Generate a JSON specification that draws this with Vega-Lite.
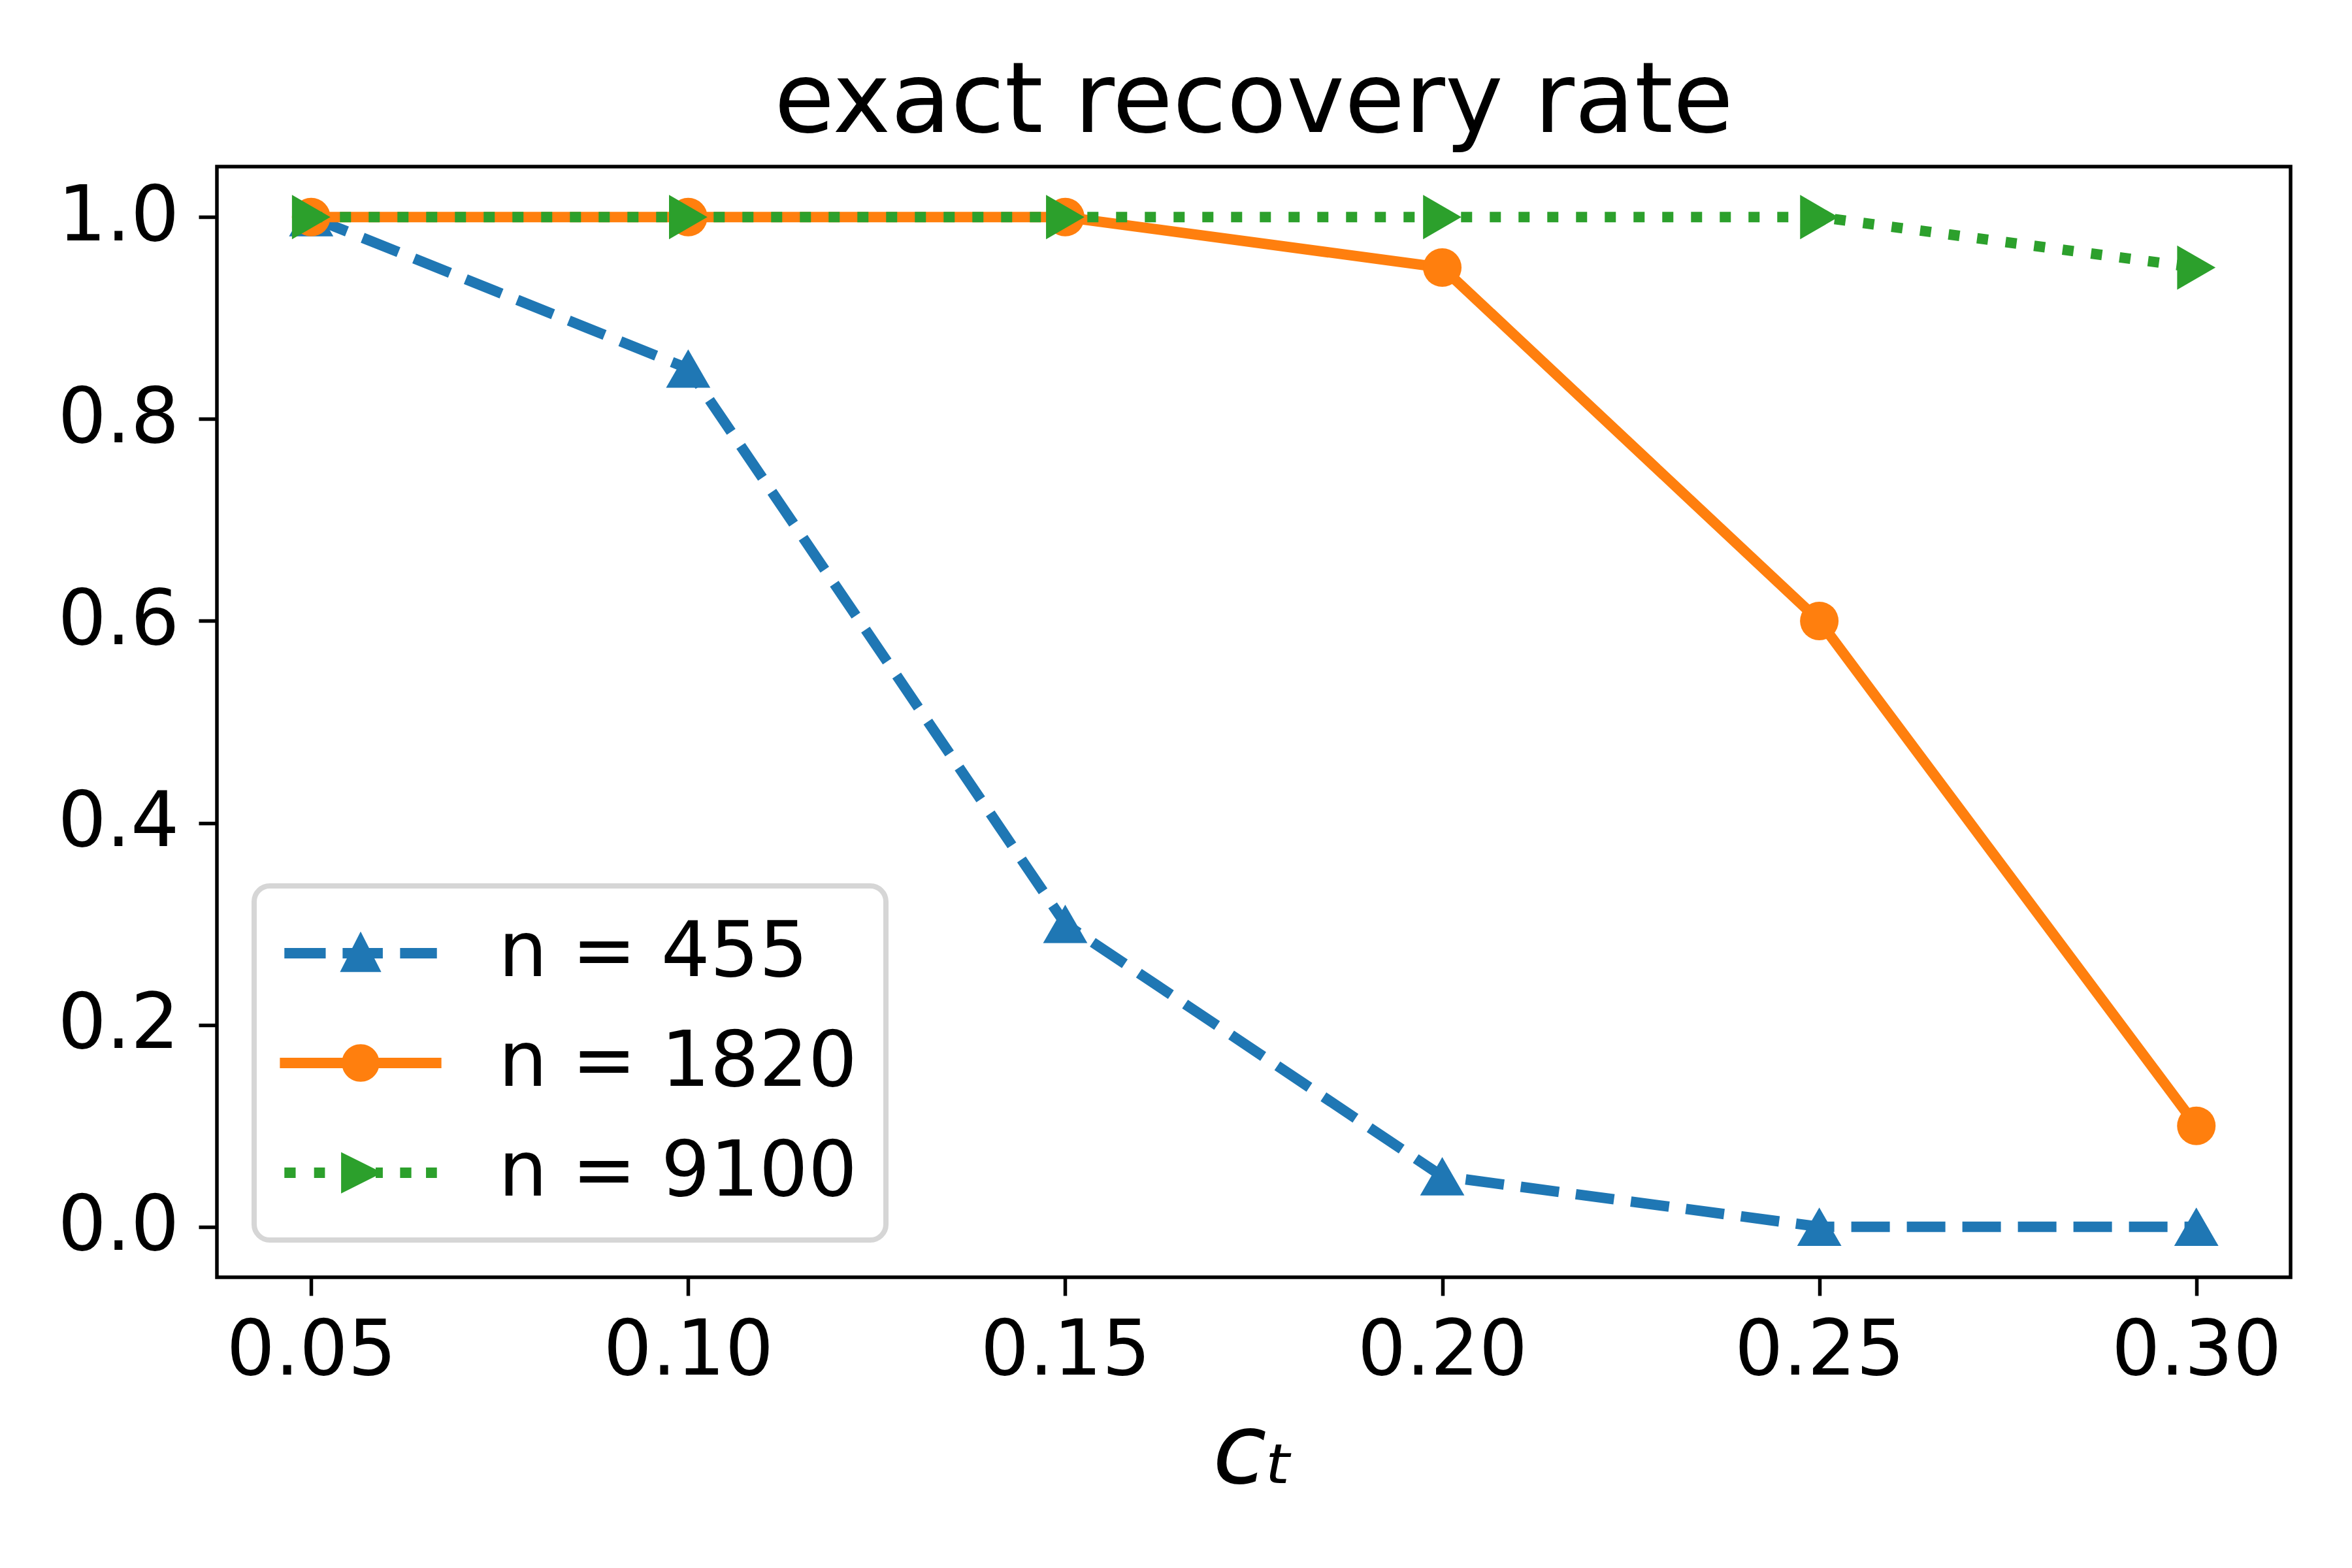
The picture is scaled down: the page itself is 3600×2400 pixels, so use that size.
{
  "$schema": "https://vega.github.io/schema/vega-lite/v6.json",
  "width": 3174,
  "height": 1700,
  "padding": {"left": 87, "top": 82, "right": 10, "bottom": 10},
  "background": "white",
  "title": {"text": "exact recovery rate", "font": "DejaVu Sans", "fontSize": 150, "fontWeight": "normal", "color": "black", "offset": 22},
  "data": {
    "values": [
      {"ct": 0.05, "rate": 1.0, "series": "n = 455"},
      {"ct": 0.10, "rate": 0.85, "series": "n = 455"},
      {"ct": 0.15, "rate": 0.30, "series": "n = 455"},
      {"ct": 0.20, "rate": 0.05, "series": "n = 455"},
      {"ct": 0.25, "rate": 0.0, "series": "n = 455"},
      {"ct": 0.30, "rate": 0.0, "series": "n = 455"},
      {"ct": 0.05, "rate": 1.0, "series": "n = 1820"},
      {"ct": 0.10, "rate": 1.0, "series": "n = 1820"},
      {"ct": 0.15, "rate": 1.0, "series": "n = 1820"},
      {"ct": 0.20, "rate": 0.95, "series": "n = 1820"},
      {"ct": 0.25, "rate": 0.60, "series": "n = 1820"},
      {"ct": 0.30, "rate": 0.10, "series": "n = 1820"},
      {"ct": 0.05, "rate": 1.0, "series": "n = 9100"},
      {"ct": 0.10, "rate": 1.0, "series": "n = 9100"},
      {"ct": 0.15, "rate": 1.0, "series": "n = 9100"},
      {"ct": 0.20, "rate": 1.0, "series": "n = 9100"},
      {"ct": 0.25, "rate": 1.0, "series": "n = 9100"},
      {"ct": 0.30, "rate": 0.95, "series": "n = 9100"}
    ]
  },
  "encoding": {
    "x": {
      "field": "ct", "type": "quantitative",
      "scale": {"domain": [0.0375, 0.3125], "nice": false, "zero": false},
      "axis": {"values": [0.05, 0.10, 0.15, 0.20, 0.25, 0.30], "format": ".2f", "title": "cₜ", "titleFontStyle": "italic", "titleFontSize": 150, "titlePadding": 24, "labelPadding": 28}
    },
    "y": {
      "field": "rate", "type": "quantitative",
      "scale": {"domain": [-0.05, 1.05], "nice": false, "zero": false},
      "axis": {"values": [0, 0.2, 0.4, 0.6, 0.8, 1.0], "format": ".1f", "title": null, "labelPadding": 30}
    },
    "color": {
      "field": "series", "type": "nominal",
      "scale": {"domain": ["n = 455", "n = 1820", "n = 9100"], "range": ["#1f77b4", "#ff7f0e", "#2ca02c"]},
      "legend": {
        "title": null,
        "orient": "bottom-left",
        "offset": 57,
        "padding": 44,
        "rowPadding": 50,
        "symbolOffset": 60,
        "labelOffset": 152,
        "symbolSize": 13225,
        "symbolStrokeWidth": 0,
        "labelFont": "DejaVu Sans",
        "labelFontSize": 118,
        "labelColor": "black",
        "labelLimit": 2000,
        "fillColor": "white",
        "strokeColor": "#d6d6d6",
        "cornerRadius": 24,
        "encode": {
          "legend": {"update": {"strokeWidth": {"value": 8}}},
          "symbols": {
            "update": {
              "size": {"value": 13225},
              "strokeWidth": {"value": 0},
              "opacity": {"value": 1},
              "fill": {"signal": "datum.value === 'n = 455' ? '#1f77b4' : datum.value === 'n = 1820' ? '#ff7f0e' : '#2ca02c'"},
              "shape": {"signal": "datum.value === 'n = 455' ? 'M-2.03,-0.14H-0.93V0.14H-2.03Z M-0.48,-0.14H0.59V0.14H-0.48Z M1.05,-0.14H2.03V0.14H1.05Z M0,-0.58L0.55,0.5L-0.55,0.5Z' : datum.value === 'n = 1820' ? 'M-2.15,-0.14H2.15V0.14H-2.15Z M0.5,0C0.5,0.276,0.276,0.5,0,0.5C-0.276,0.5,-0.5,0.276,-0.5,0C-0.5,-0.276,-0.276,-0.5,0,-0.5C0.276,-0.5,0.5,-0.276,0.5,0Z' : 'M-2.03,-0.14H-1.73V0.14H-2.03Z M-1.24,-0.14H-0.95V0.14H-1.24Z M0.4,-0.14H0.59V0.14H0.4Z M1.05,-0.14H1.35V0.14H1.05Z M1.74,-0.14H2.03V0.14H1.74Z M-0.52,-0.55L0.58,0L-0.52,0.55Z'"}
            }
          }
        }
      }
    }
  },
  "layer": [
    {
      "transform": [{"filter": "datum.series === 'n = 455'"}],
      "layer": [
        {"mark": {"type": "line", "strokeWidth": 16, "strokeDash": [59, 26]}},
        {"mark": {"type": "point", "filled": true, "opacity": 1, "shape": "triangle-up", "size": 4600}}
      ]
    },
    {
      "transform": [{"filter": "datum.series === 'n = 1820'"}],
      "layer": [
        {"mark": {"type": "line", "strokeWidth": 16}},
        {"mark": {"type": "point", "filled": true, "opacity": 1, "shape": "circle", "size": 3480}}
      ]
    },
    {
      "transform": [{"filter": "datum.series === 'n = 9100'"}],
      "layer": [
        {"mark": {"type": "line", "strokeWidth": 16, "strokeDash": [17, 27]}},
        {"mark": {"type": "point", "filled": true, "opacity": 1, "shape": "triangle-right", "size": 4600}}
      ]
    }
  ],
  "config": {
    "view": {"stroke": "black", "strokeWidth": 5.5},
    "axis": {
      "grid": false,
      "domain": false,
      "ticks": true,
      "tickColor": "black",
      "tickWidth": 5.5,
      "tickSize": 28,
      "labelFont": "DejaVu Sans",
      "labelFontSize": 117,
      "labelColor": "black",
      "labelPadding": 40,
      "labelLimit": 1000,
      "labelFlush": false,
      "labelOverlap": false,
      "titleFont": "DejaVu Sans",
      "titleFontWeight": "normal",
      "titleColor": "black"
    }
  }
}
